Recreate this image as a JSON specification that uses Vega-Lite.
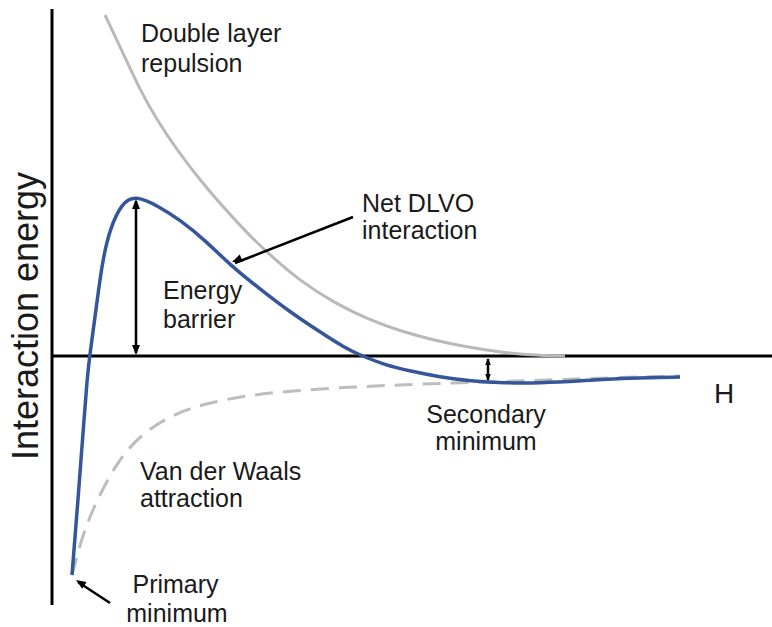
{
  "$schema": "https://vega.github.io/schema/vega-lite/v6.json",
  "width": 772,
  "height": 627,
  "padding": 0,
  "autosize": "none",
  "background": "white",
  "config": {"view": {"stroke": null}},
  "datasets": {
    "axes": [
      {"h": 0, "e": 34.7, "h2": 0, "e2": -24.9},
      {"h": 0, "e": 0, "h2": 72, "e2": 0}
    ],
    "curves": [
      {"series": "Double layer repulsion", "h": 5.3, "e": 34.1},
      {"series": "Double layer repulsion", "h": 7.1, "e": 30.3},
      {"series": "Double layer repulsion", "h": 8.8, "e": 26.6},
      {"series": "Double layer repulsion", "h": 10.5, "e": 23.6},
      {"series": "Double layer repulsion", "h": 12.5, "e": 20.6},
      {"series": "Double layer repulsion", "h": 14.8, "e": 17.6},
      {"series": "Double layer repulsion", "h": 17.1, "e": 14.9},
      {"series": "Double layer repulsion", "h": 19.5, "e": 12.3},
      {"series": "Double layer repulsion", "h": 21.8, "e": 10.1},
      {"series": "Double layer repulsion", "h": 24.8, "e": 7.5},
      {"series": "Double layer repulsion", "h": 28.1, "e": 5.4},
      {"series": "Double layer repulsion", "h": 31.5, "e": 3.7},
      {"series": "Double layer repulsion", "h": 34.8, "e": 2.5},
      {"series": "Double layer repulsion", "h": 38.1, "e": 1.6},
      {"series": "Double layer repulsion", "h": 41.5, "e": 0.9},
      {"series": "Double layer repulsion", "h": 44.8, "e": 0.4},
      {"series": "Double layer repulsion", "h": 47.8, "e": 0.1},
      {"series": "Double layer repulsion", "h": 51.3, "e": 0.0},
      {"series": "Van der Waals attraction", "h": 2.0, "e": -21.9},
      {"series": "Van der Waals attraction", "h": 3.1, "e": -17.7},
      {"series": "Van der Waals attraction", "h": 4.5, "e": -14.4},
      {"series": "Van der Waals attraction", "h": 6.5, "e": -10.6},
      {"series": "Van der Waals attraction", "h": 8.8, "e": -7.9},
      {"series": "Van der Waals attraction", "h": 12.1, "e": -5.8},
      {"series": "Van der Waals attraction", "h": 15.5, "e": -4.7},
      {"series": "Van der Waals attraction", "h": 19.8, "e": -3.9},
      {"series": "Van der Waals attraction", "h": 23.8, "e": -3.5},
      {"series": "Van der Waals attraction", "h": 29.8, "e": -3.1},
      {"series": "Van der Waals attraction", "h": 34.8, "e": -2.9},
      {"series": "Van der Waals attraction", "h": 39.8, "e": -2.7},
      {"series": "Van der Waals attraction", "h": 46.8, "e": -2.5},
      {"series": "Van der Waals attraction", "h": 54.8, "e": -2.2},
      {"series": "Van der Waals attraction", "h": 62.8, "e": -2.0},
      {"series": "Net DLVO interaction", "h": 2.0, "e": -21.9},
      {"series": "Net DLVO interaction", "h": 2.6, "e": -14.4},
      {"series": "Net DLVO interaction", "h": 3.2, "e": -6.4},
      {"series": "Net DLVO interaction", "h": 3.5, "e": -2.4},
      {"series": "Net DLVO interaction", "h": 3.8, "e": 0.3},
      {"series": "Net DLVO interaction", "h": 4.4, "e": 4.6},
      {"series": "Net DLVO interaction", "h": 5.0, "e": 9.3},
      {"series": "Net DLVO interaction", "h": 5.8, "e": 12.8},
      {"series": "Net DLVO interaction", "h": 7.0, "e": 15.3},
      {"series": "Net DLVO interaction", "h": 8.3, "e": 16.1},
      {"series": "Net DLVO interaction", "h": 10.8, "e": 14.9},
      {"series": "Net DLVO interaction", "h": 12.8, "e": 13.6},
      {"series": "Net DLVO interaction", "h": 15.3, "e": 11.6},
      {"series": "Net DLVO interaction", "h": 17.8, "e": 9.1},
      {"series": "Net DLVO interaction", "h": 20.8, "e": 6.7},
      {"series": "Net DLVO interaction", "h": 23.8, "e": 4.4},
      {"series": "Net DLVO interaction", "h": 26.8, "e": 2.4},
      {"series": "Net DLVO interaction", "h": 29.3, "e": 0.8},
      {"series": "Net DLVO interaction", "h": 30.8, "e": 0.1},
      {"series": "Net DLVO interaction", "h": 33.3, "e": -0.9},
      {"series": "Net DLVO interaction", "h": 35.8, "e": -1.5},
      {"series": "Net DLVO interaction", "h": 38.8, "e": -2.1},
      {"series": "Net DLVO interaction", "h": 41.8, "e": -2.5},
      {"series": "Net DLVO interaction", "h": 45.3, "e": -2.7},
      {"series": "Net DLVO interaction", "h": 48.8, "e": -2.7},
      {"series": "Net DLVO interaction", "h": 52.8, "e": -2.5},
      {"series": "Net DLVO interaction", "h": 57.8, "e": -2.2},
      {"series": "Net DLVO interaction", "h": 62.8, "e": -2.1}
    ],
    "arrows": [
      {"name": "barrier", "h": 8.4, "e": 15.5, "h2": 8.4, "e2": 0.3},
      {"name": "secondary", "h": 43.6, "e": -0.3, "h2": 43.6, "e2": -2.4},
      {"name": "net", "h": 30.1, "e": 13.9, "h2": 18.3, "e2": 9.3},
      {"name": "primary", "h": 5.8, "e": -24.7, "h2": 2.6, "e2": -22.6}
    ],
    "heads": [
      {"name": "barrier top", "h": 8.4, "e": 15.7},
      {"name": "barrier bottom", "h": 8.4, "e": 0.1},
      {"name": "secondary top", "h": 43.6, "e": -0.2},
      {"name": "secondary bottom", "h": 43.6, "e": -2.5},
      {"name": "net", "h": 18.0, "e": 9.4},
      {"name": "primary", "h": 2.4, "e": -22.4}
    ],
    "labels": [
      {"text": "Double layer", "h": 8.9, "e": 31.4},
      {"text": "repulsion", "h": 8.9, "e": 28.4},
      {"text": "Net DLVO", "h": 31.0, "e": 14.4},
      {"text": "interaction", "h": 31.0, "e": 11.7},
      {"text": "Energy", "h": 11.1, "e": 5.7},
      {"text": "barrier", "h": 11.1, "e": 2.8},
      {"text": "Van der Waals", "h": 8.8, "e": -12.4},
      {"text": "attraction", "h": 8.8, "e": -15.1},
      {"text": "Secondary", "h": 43.4, "e": -6.7},
      {"text": "minimum ", "h": 43.4, "e": -9.4},
      {"text": "Primary", "h": 12.35, "e": -23.7},
      {"text": "minimum", "h": 12.5, "e": -26.6}
    ],
    "axislabels": [
      {"text": "H", "h": 67.2, "e": -4.7},
      {"text": "Interaction energy", "h": -1.4, "e": 4.0}
    ]
  },
  "encoding": {
    "x": {"field": "h", "type": "quantitative", "scale": {"domain": [-5.2, 72], "nice": false, "zero": false}, "axis": null},
    "y": {"field": "e", "type": "quantitative", "scale": {"domain": [-27.1, 35.6], "nice": false, "zero": false}, "axis": null}
  },
  "layer": [
    {
      "data": {"name": "axes"},
      "mark": {"type": "rule", "color": "black", "strokeWidth": 3},
      "encoding": {"x2": {"field": "h2"}, "y2": {"field": "e2"}}
    },
    {
      "data": {"name": "curves"},
      "transform": [{"filter": "datum.series === 'Double layer repulsion'"}],
      "mark": {"type": "line", "color": "#b9b9b9", "strokeWidth": 3, "interpolate": "basis"},
      "encoding": {"order": {"field": "h"}}
    },
    {
      "data": {"name": "curves"},
      "transform": [{"filter": "datum.series === 'Van der Waals attraction'"}],
      "mark": {"type": "line", "color": "#bdbdbd", "strokeWidth": 3, "strokeDash": [18, 10], "interpolate": "basis"},
      "encoding": {"order": {"field": "h"}}
    },
    {
      "data": {"name": "curves"},
      "transform": [{"filter": "datum.series === 'Net DLVO interaction'"}],
      "mark": {"type": "line", "color": "#35569b", "strokeWidth": 3.5, "interpolate": "basis"},
      "encoding": {"order": {"field": "h"}}
    },
    {
      "data": {"name": "arrows"},
      "mark": {"type": "rule", "color": "black", "strokeWidth": 2.5},
      "encoding": {"x2": {"field": "h2"}, "y2": {"field": "e2"}}
    },
    {
      "data": {"name": "heads"},
      "transform": [{"filter": "datum.name === 'barrier top'"}],
      "mark": {"type": "point", "shape": "M0,0L-0.8,2L0.8,2Z", "filled": true, "color": "black", "opacity": 1, "size": 100, "angle": 0}
    },
    {
      "data": {"name": "heads"},
      "transform": [{"filter": "datum.name === 'barrier bottom'"}],
      "mark": {"type": "point", "shape": "M0,0L-0.8,2L0.8,2Z", "filled": true, "color": "black", "opacity": 1, "size": 100, "angle": 180}
    },
    {
      "data": {"name": "heads"},
      "transform": [{"filter": "datum.name === 'secondary top'"}],
      "mark": {"type": "point", "shape": "M0,0L-0.8,2L0.8,2Z", "filled": true, "color": "black", "opacity": 1, "size": 49, "angle": 0}
    },
    {
      "data": {"name": "heads"},
      "transform": [{"filter": "datum.name === 'secondary bottom'"}],
      "mark": {"type": "point", "shape": "M0,0L-0.8,2L0.8,2Z", "filled": true, "color": "black", "opacity": 1, "size": 49, "angle": 180}
    },
    {
      "data": {"name": "heads"},
      "transform": [{"filter": "datum.name === 'net'"}],
      "mark": {"type": "point", "shape": "M0,0L-0.8,2L0.8,2Z", "filled": true, "color": "black", "opacity": 1, "size": 100, "angle": 248}
    },
    {
      "data": {"name": "heads"},
      "transform": [{"filter": "datum.name === 'primary'"}],
      "mark": {"type": "point", "shape": "M0,0L-0.8,2L0.8,2Z", "filled": true, "color": "black", "opacity": 1, "size": 100, "angle": 303}
    },
    {
      "data": {"name": "labels"},
      "transform": [{"filter": {"field": "text", "oneOf": ["Double layer", "repulsion", "Net DLVO", "interaction", "Energy", "barrier", "Van der Waals", "attraction"]}}],
      "mark": {"type": "text", "align": "left", "baseline": "alphabetic", "font": "Liberation Sans", "fontSize": 25, "color": "#1a1a1a"},
      "encoding": {"text": {"field": "text"}}
    },
    {
      "data": {"name": "labels"},
      "transform": [{"filter": {"field": "text", "oneOf": ["Secondary", "minimum ", "Primary", "minimum"]}}],
      "mark": {"type": "text", "align": "center", "baseline": "alphabetic", "font": "Liberation Sans", "fontSize": 25, "color": "#1a1a1a"},
      "encoding": {"text": {"field": "text"}}
    },
    {
      "data": {"name": "axislabels"},
      "transform": [{"filter": "datum.text === 'H'"}],
      "mark": {"type": "text", "align": "center", "baseline": "alphabetic", "font": "Liberation Sans", "fontSize": 28, "color": "#1a1a1a"},
      "encoding": {"text": {"field": "text"}}
    },
    {
      "data": {"name": "axislabels"},
      "transform": [{"filter": "datum.text === 'Interaction energy'"}],
      "mark": {"type": "text", "align": "center", "baseline": "alphabetic", "angle": 270, "font": "Liberation Sans", "fontSize": 36, "color": "#1a1a1a"},
      "encoding": {"text": {"field": "text"}}
    }
  ]
}
